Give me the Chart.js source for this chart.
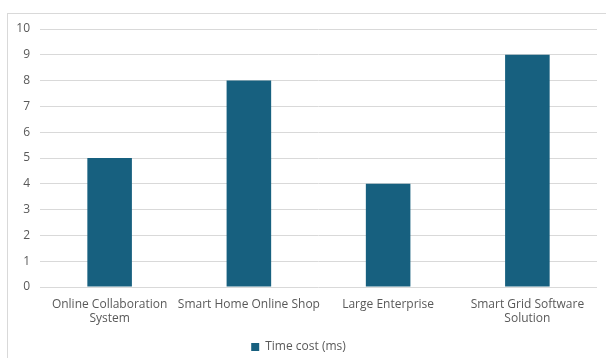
<!DOCTYPE html>
<html>
<head>
<meta charset="utf-8">
<script src="https://cdn.jsdelivr.net/npm/chart.js@4/dist/chart.umd.min.js"></script>
<style>
  html, body { margin: 0; padding: 0; background: #fff; overflow: hidden; }
  #wrap { position: relative; width: 606px; height: 358px; }
  #frame { position: absolute; left: 7px; top: 13px; width: 640px; height: 400px; border: 1px solid #d9d9d9; box-sizing: border-box; }
  canvas { position: absolute; left: 0; top: 0; }
</style>
</head>
<body>
<div id="wrap">
  <div id="frame"></div>
  <canvas id="chart" width="606" height="358"></canvas>
</div>
<script>
const categories = [
  ["Online Collaboration", "System"],
  "Smart Home Online Shop",
  "Large Enterprise",
  ["Smart Grid Software", "Solution"],
];
const timeCost = [5, 8, 4, 9];
const seriesLabel = "Time cost (ms)";

const textColor = "#595959";
const font = { family: "'Open Sans', sans-serif", size: 12 };

new Chart(document.getElementById("chart").getContext("2d"), {
  type: "bar",
  data: {
    labels: categories,
    datasets: [
      {
        label: seriesLabel,
        data: timeCost,
        backgroundColor: "#17607f",
        borderWidth: 0,
        categoryPercentage: 1,
        barPercentage: 0.32,
      },
    ],
  },
  options: {
    responsive: false,
    animation: false,
    // negative bottom padding pushes the legend down near the frame edge
    layout: { padding: { left: 0, right: 9, top: 29, bottom: -5 } },
    plugins: {
      legend: {
        position: "bottom",
        labels: {
          color: textColor,
          font: font,
          boxWidth: 8,
          boxHeight: 8,
          padding: 2,
        },
      },
      tooltip: { enabled: false },
    },
    scales: {
      x: {
        grid: { display: false },
        border: { display: false },
        ticks: { color: textColor, font: font, maxRotation: 0, autoSkip: false, padding: 2 },
        afterFit: (axis) => { axis.height = 52; },
      },
      y: {
        min: 0,
        max: 10,
        ticks: { stepSize: 1, color: textColor, font: font, padding: 10 },
        grid: { color: "#d9d9d9", drawTicks: false },
        border: { display: false },
        afterFit: (axis) => { axis.width = 40; },
      },
    },
  },
});
</script>
</body>
</html>
